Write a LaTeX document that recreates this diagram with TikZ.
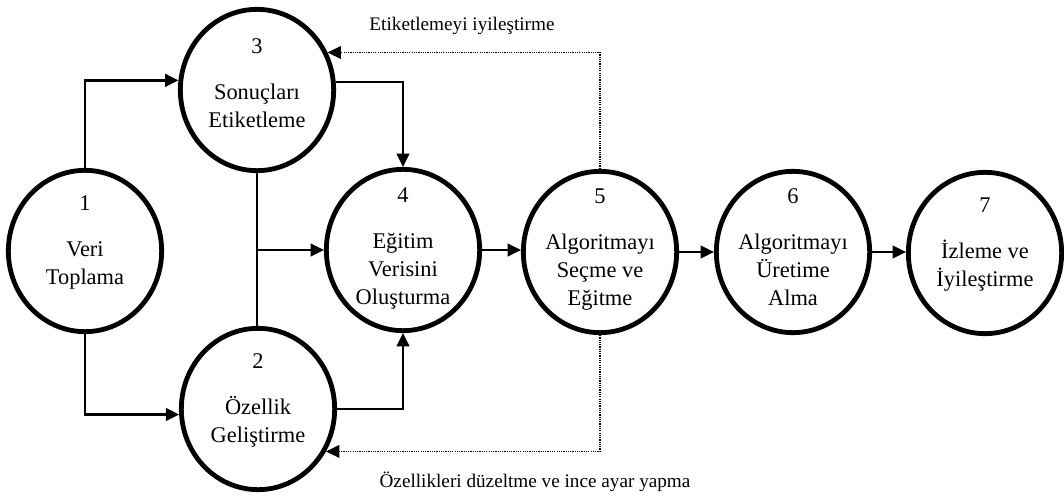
\documentclass[tikz,border=0pt]{standalone}
\usepackage{fontspec}
\setmainfont{Liberation Serif}
\usetikzlibrary{arrows.meta,shapes.geometric,calc}
\begin{document}
\begin{tikzpicture}[x=0.75pt,y=-0.75pt,
  stage/.style={draw, ellipse, line width=3.6pt, minimum width=115pt, minimum height=121pt, inner sep=0pt},
  stagetxt/.style={anchor=base, inner sep=0pt, font=\fontsize{16.8}{21}\selectfont},
  conn/.style={line width=1.8pt, -{Triangle[length=10pt,width=9.5pt]}},
  fb/.style={line width=0.9pt, dash pattern=on 0.9pt off 0.8pt, -{Triangle[length=10pt,width=9.5pt]}},
  plain/.style={line width=1.8pt},
  lbl/.style={anchor=base, inner sep=0pt, font=\fontsize{14.4}{17}\selectfont}
]
\path[use as bounding box] (0,0) rectangle (1064,496);

\node[stage] (c1) at (85,251) {};
\node[stage] (c3) at (257,90) {};
\node[stage] (c2) at (258,409) {};
\node[stage] (c4) at (403,250) {};
\node[stage] (c5) at (600,252) {};
\node[stage] (c6) at (793,252) {};
\node[stage] (c7) at (985,253) {};

\node[stagetxt] (t1) at ($(c1)+(0,-41)$) {\begin{tabular}[t]{@{}c@{}}1\\[13.5pt]Veri\\Toplama\end{tabular}};
\node[stagetxt] (t3) at ($(c3)+(0,-37)$) {\begin{tabular}[t]{@{}c@{}}3\\[13.5pt]Sonuçları\\Etiketleme\end{tabular}};
\node[stagetxt] (t2) at ($(c2)+(0,-41)$) {\begin{tabular}[t]{@{}c@{}}2\\[13.5pt]Özellik\\Geliştirme\end{tabular}};
\node[stagetxt] (t4) at ($(c4)+(0,-48)$) {\begin{tabular}[t]{@{}c@{}}4\\[13.5pt]Eğitim\\Verisini\\Oluşturma\end{tabular}};
\node[stagetxt] (t5) at ($(c5)+(0,-49)$) {\begin{tabular}[t]{@{}c@{}}5\\[13.5pt]Algoritmayı\\Seçme ve\\Eğitme\end{tabular}};
\node[stagetxt] (t6) at ($(c6)+(0,-49)$) {\begin{tabular}[t]{@{}c@{}}6\\[13.5pt]Algoritmayı\\Üretime\\Alma\end{tabular}};
\node[stagetxt] (t7) at ($(c7)+(0,-41)$) {\begin{tabular}[t]{@{}c@{}}7\\[13.5pt]İzleme ve\\İyileştirme\end{tabular}};

\draw[conn] (c1.north) |- (c3.173);
\draw[conn] (c1.south) |- (c2.184);
\draw[plain] (c3.south) -- (c3.south |- c2.north);
\coordinate (j) at (c3.south |- c4.west);
\draw[conn] (j) -- (c4.west);
\draw[conn] (c3.6) -| (c4.north);
\draw[conn] (c2.east) -| (c4.south);
\draw[conn] (c4.east) -- (c4.east -| c5.west);
\draw[conn] (c5.east) -- (c5.east -| c6.west);
\draw[conn] (c6.east) -- (c6.east -| c7.west);
\draw[fb] (c5.north) |- (c3.28);
\draw[fb] (c5.south) |- (c2.-32);

\node[lbl] (l1) at (462,30) {Etiketlemeyi iyileştirme};
\node[lbl] (l2) at (535,487) {Özellikleri düzeltme ve ince ayar yapma};
\end{tikzpicture}
\end{document}
